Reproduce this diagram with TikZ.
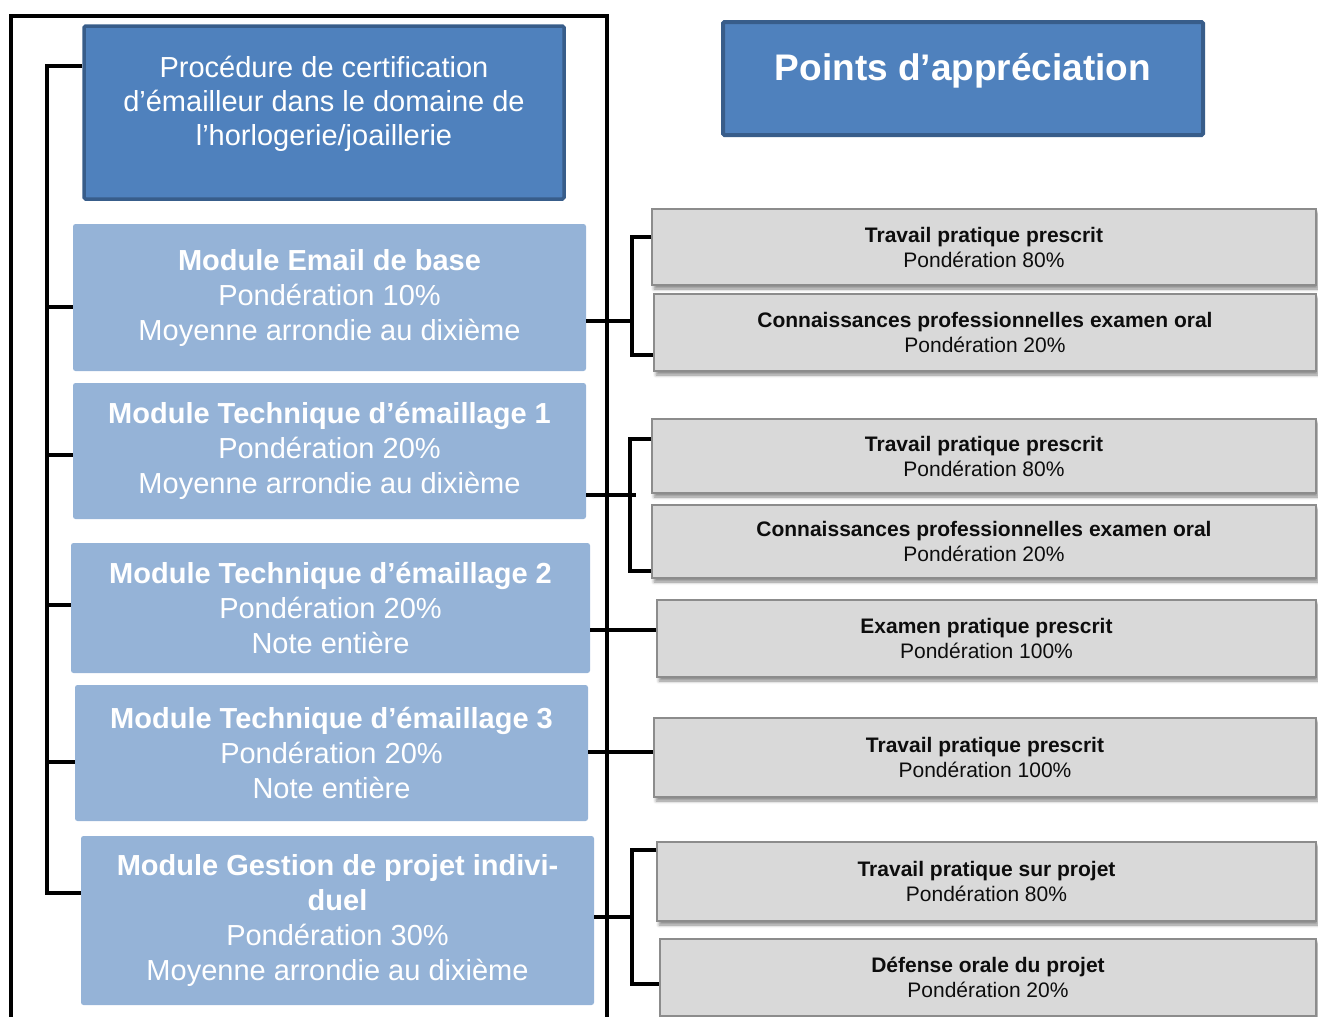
\documentclass[tikz,border=0pt]{standalone}
\usepackage{fontspec}
\setmainfont{Liberation Sans}
\usetikzlibrary{shadows.blur,calc}
\definecolor{dblue}{HTML}{4F81BD}
\definecolor{dborder}{HTML}{385D8A}
\definecolor{lblue}{HTML}{95B3D7}
\definecolor{gfill}{HTML}{D9D9D9}
\definecolor{gborder}{HTML}{8C8C8C}
\begin{document}
\begin{tikzpicture}[x=1pt,y=-1pt,
  headbox/.style={draw=dborder, fill=dblue, line width=3.5pt, rounded corners=1.5pt, inner sep=0pt},
  headtext/.style={text=white, align=center, inner sep=0pt},
  modbox/.style={fill=lblue, rounded corners=2.5pt, text=white, align=center,
    font=\fontsize{29}{35}\selectfont, inner sep=0pt},
  evalbox/.style={draw=gborder, fill=gfill, line width=1.5pt, align=center, text=black!95,
    font=\fontsize{21}{25}\selectfont, inner sep=0pt,
    blur shadow={shadow xshift=2pt, shadow yshift=-4pt, shadow blur radius=3pt, shadow opacity=45}},
  link/.style={line width=4.5pt, draw=black, line join=miter}
]
\useasboundingbox (0,0) rectangle (1318,1017);

% outer frame
\draw[line width=4pt, line join=miter] (11,1030) -- (11,16) -- (607,16) -- (607,1030);

% header boxes
\node[headbox, minimum width=480pt, minimum height=173pt] (title) at (324,112.5) {};
\node[headtext, font=\fontsize{29}{34}\selectfont] (titletxt) at (324,104)
  {Procédure de certification\\d’émailleur dans le domaine de\\l’horlogerie/joaillerie};
\node[headbox, line width=4pt, minimum width=480pt, minimum height=113pt] (points) at (963,78.5) {};
\node[headtext, font=\fontsize{37}{42}\selectfont\bfseries] (pointstxt) at (963,70.5) {Points d’appréciation};

% module boxes
\node[modbox, minimum width=513pt, minimum height=147pt] (m1) at (329.5,297.5)
  {\textbf{Module Email de base}\\Pondération 10\%\\Moyenne arrondie au dixième};
\node[modbox, minimum width=513pt, minimum height=136pt] (m2) at (329.5,451)
  {\textbf{Module Technique d’émaillage 1}\\Pondération 20\%\\Moyenne arrondie au dixième};
\node[modbox, minimum width=519pt, minimum height=130pt] (m3) at (330.5,608)
  {\textbf{Module Technique d’émaillage 2}\\Pondération 20\%\\Note entière};
\node[modbox, minimum width=513pt, minimum height=136pt] (m4) at (331.5,753)
  {\textbf{Module Technique d’émaillage 3}\\Pondération 20\%\\Note entière};
\node[modbox, minimum width=513pt, minimum height=169pt] (m5) at (337.5,920.5)
  {\textbf{Module Gestion de projet indivi-}\\\textbf{duel}\\Pondération 30\%\\Moyenne arrondie au dixième};

% evaluation boxes
\node[evalbox, minimum width=664pt, minimum height=76pt] (ea) at (984,247)
  {\textbf{Travail pratique prescrit}\\Pondération 80\%};
\node[evalbox, minimum width=662pt, minimum height=77pt] (eb) at (985,332.5)
  {\textbf{Connaissances professionnelles examen oral}\\Pondération 20\%};
\node[evalbox, minimum width=664pt, minimum height=74pt] (ec) at (984,456)
  {\textbf{Travail pratique prescrit}\\Pondération 80\%};
\node[evalbox, minimum width=664pt, minimum height=73pt] (ed) at (984,541.5)
  {\textbf{Connaissances professionnelles examen oral}\\Pondération 20\%};
\node[evalbox, minimum width=659pt, minimum height=77pt] (ee) at (986.5,638.5)
  {\textbf{Examen pratique prescrit}\\Pondération 100\%};
\node[evalbox, minimum width=662pt, minimum height=79pt] (ef) at (985,757.5)
  {\textbf{Travail pratique prescrit}\\Pondération 100\%};
\node[evalbox, minimum width=659pt, minimum height=79pt] (eg) at (986.5,881.5)
  {\textbf{Travail pratique sur projet}\\Pondération 80\%};
\node[evalbox, minimum width=656pt, minimum height=77pt] (eh) at (988,977.5)
  {\textbf{Défense orale du projet}\\Pondération 20\%};

% left spine
\coordinate (spine) at (47,0);
\draw[link] ([yshift=46.5pt]title.west) -- ([yshift=46.5pt]title.west -| spine)
  -- ([yshift=27.5pt]m5.west -| spine) -- ([yshift=27.5pt]m5.west);
\draw[link] ([yshift=-9.5pt]m1.west) -- ([yshift=-9.5pt]m1.west -| spine);
\draw[link] ([yshift=-4pt]m2.west) -- ([yshift=-4pt]m2.west -| spine);
\draw[link] ([yshift=3pt]m3.west) -- ([yshift=3pt]m3.west -| spine);
\draw[link] ([yshift=-9pt]m4.west) -- ([yshift=-9pt]m4.west -| spine);

% right connectors
\coordinate (b1) at (632,0);
\coordinate (b2) at (630,0);
\coordinate (b5) at (632,0);
\draw[link] ([yshift=-23.5pt]m1.east) -- ([yshift=-23.5pt]m1.east -| b1);
\draw[link] ([yshift=10pt]ea.west) -- ([yshift=10pt]ea.west -| b1)
  -- ([yshift=-22.5pt]eb.west -| b1) -- ([yshift=-22.5pt]eb.west);

\draw[link] ([yshift=-44pt]m2.east) -- ([yshift=-44pt,xshift=50pt]m2.east);
\draw[link] ([yshift=17pt]ec.west) -- ([yshift=17pt]ec.west -| b2)
  -- ([yshift=-29.5pt]ed.west -| b2) -- ([yshift=-29.5pt]ed.west);

\draw[link] ([yshift=-22pt]m3.east) -- ([yshift=-22pt]m3.east -| ee.west);
\draw[link] ([yshift=1pt]m4.east) -- ([yshift=1pt]m4.east -| ef.west);

\draw[link] ([yshift=3.5pt]m5.east) -- ([yshift=3.5pt]m5.east -| b5);
\draw[link] ([yshift=31.5pt]eg.west) -- ([yshift=31.5pt]eg.west -| b5)
  -- ([yshift=-6.5pt]eh.west -| b5) -- ([yshift=-6.5pt]eh.west);
\end{tikzpicture}
\end{document}
